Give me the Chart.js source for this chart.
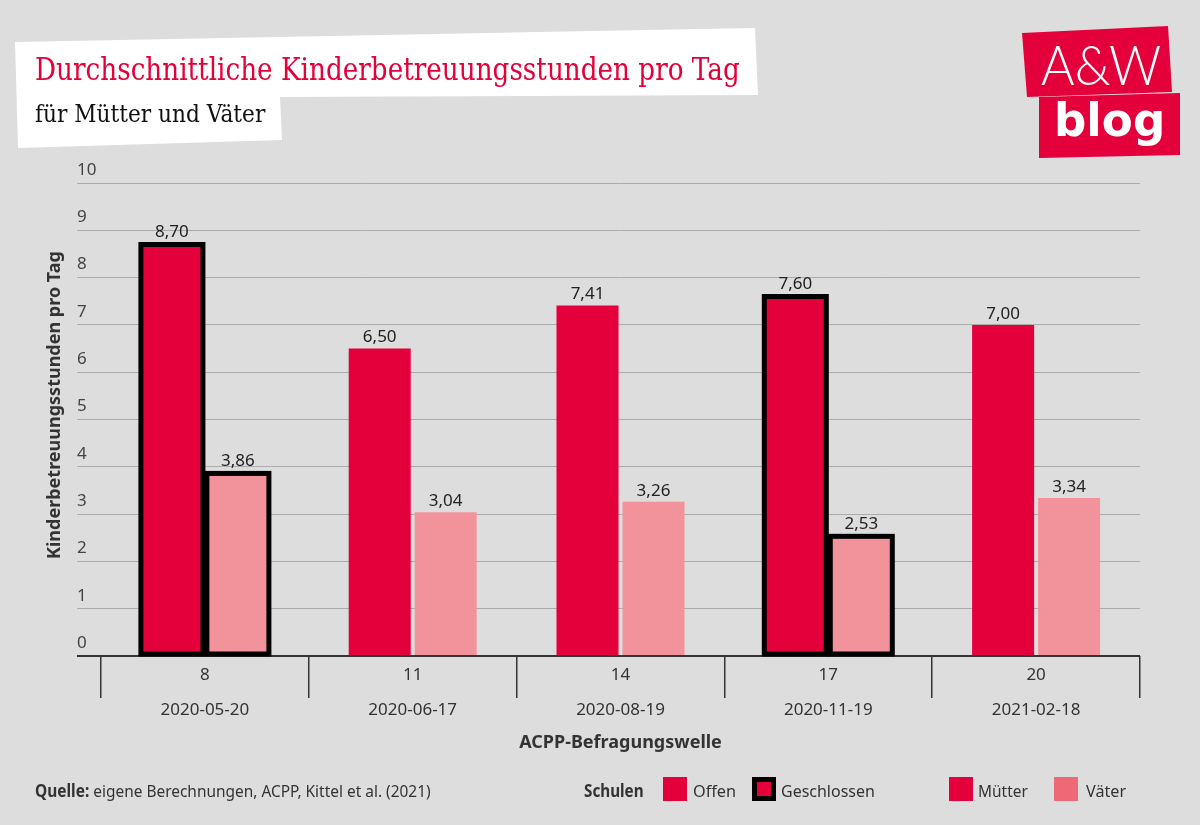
<!DOCTYPE html>
<html lang="de">
<head>
    <meta charset="UTF-8">
    <title>Kinderbetreuungsstunden</title>
    <script src="https://cdn.jsdelivr.net/npm/chart.js"></script>
    <style>
        body { margin: 0; background: #dddddd; }
        #wrap { position: relative; width: 1200px; height: 825px; overflow: hidden; background: #dddddd; }
        #chart { position: absolute; left: 0; top: 0; }
        .abs { position: absolute; white-space: nowrap; transform-origin: 0 50%; }
        #titlebox { position: absolute; left: 0; top: 0; width: 800px; height: 170px; background: #fff;
            clip-path: polygon(15px 42px, 755px 28px, 758px 95px, 280px 97px, 282px 140px, 18px 148px); }
        #title { left: 35px; top: 50px; font-family: "DejaVu Serif", serif; font-size: 32px; color: #e4003a; }
        #subtitle { left: 35px; top: 99px; font-family: "DejaVu Serif", serif; font-size: 25px; color: #111; }
        .logo { position: absolute; background: #e4003a; }
        #logo1 { left: 0; top: 0; width: 1200px; height: 200px;
            clip-path: polygon(1022px 33px, 1168px 26px, 1172px 92px, 1027px 97px); }
        #logo2 { left: 0; top: 0; width: 1200px; height: 200px;
            clip-path: polygon(1039px 97px, 1180px 93px, 1180px 155px, 1039px 158px); }
        #aw { left: 1041px; top: 30px; font-family: Lato, sans-serif; font-weight: 300; font-size: 56px; color: #fff; }
        #blog { left: 1054px; top: 93px; font-family: "DejaVu Sans", sans-serif; font-weight: bold; font-size: 46px; color: #fff; }
        .foot { font-family: "Noto Sans", sans-serif; font-size: 17px; color: #333; top: 779px; line-height: 24px; }
        .sw { position: absolute; width: 24px; height: 24px; top: 777px; box-sizing: border-box; }
    </style>
</head>
<body>
<div id="wrap">
    <canvas id="chart" width="1200" height="825"></canvas>

    <!-- Titel -->
    <div id="titlebox"></div>
    <span class="abs" id="title" data-w="705">Durchschnittliche Kinderbetreuungsstunden pro Tag</span>
    <span class="abs" id="subtitle" data-w="230">für Mütter und Väter</span>

    <!-- Logo -->
    <div class="logo" id="logo1"></div>
    <div class="logo" id="logo2"></div>
    <span class="abs" id="aw" data-w="120">A&amp;W</span>
    <span class="abs" id="blog" data-w="111">blog</span>

    <!-- Quelle und Legende -->
    <span class="abs foot" style="left:35px" data-w="396"><b>Quelle:</b> eigene Berechnungen, ACPP, Kittel et al. (2021)</span>
    <span class="abs foot" style="left:584px;font-weight:bold" data-w="60">Schulen</span>
    <div class="sw" style="left:663px;background:#e4003a"></div>
    <span class="abs foot" style="left:693px" data-w="43">Offen</span>
    <div class="sw" style="left:752px;background:#e4003a;border:5px solid #000"></div>
    <span class="abs foot" style="left:781px" data-w="94">Geschlossen</span>
    <div class="sw" style="left:949px;background:#e4003a"></div>
    <span class="abs foot" style="left:978px" data-w="50">Mütter</span>
    <div class="sw" style="left:1054px;background:#ef6875"></div>
    <span class="abs foot" style="left:1086px" data-w="40">Väter</span>
</div>

<script>
    // Daten
    const waves = ['8', '11', '14', '17', '20'];
    const dates = ['2020-05-20', '2020-06-17', '2020-08-19', '2020-11-19', '2021-02-18'];
    const mothers = [8.70, 6.50, 7.41, 7.60, 7.00];
    const fathers = [3.86, 3.04, 3.26, 2.53, 3.34];
    const schoolsClosed = [true, false, false, true, false];
    const yTicks = [0, 1, 2, 3, 4, 5, 6, 7, 8, 9, 10];

    const RED = '#e4003a';
    const PINK = '#f2939c';

    // Texte auf Zielbreite stauchen
    document.querySelectorAll('[data-w]').forEach(el => {
        const w = parseFloat(el.dataset.w);
        const s = w / el.offsetWidth;
        el.style.transform = 'scaleX(' + s + ')';
    });

    // Rahmen für geschlossene Schulen, Werte über den Balken, Achsentitel
    const labelPlugin = {
        id: 'labels',
        afterDatasetsDraw(chart) {
            const ctx = chart.ctx;
            ctx.save();

            // Rahmen mittig auf der Balkenkante (wie im Original)
            ctx.strokeStyle = '#000';
            ctx.lineWidth = 5;
            chart.data.datasets.forEach((ds, di) => {
                chart.getDatasetMeta(di).data.forEach((bar, i) => {
                    if (!schoolsClosed[i]) return;
                    const p = bar.getProps(['x', 'y', 'base', 'width'], true);
                    ctx.strokeRect(p.x - p.width / 2, p.y, p.width, p.base - p.y - 1);
                });
            });

            ctx.fillStyle = '#222';
            ctx.font = '17px "Noto Sans"';
            ctx.textAlign = 'center';
            ctx.textBaseline = 'middle';
            chart.data.datasets.forEach((ds, di) => {
                chart.getDatasetMeta(di).data.forEach((bar, i) => {
                    const off = schoolsClosed[i] ? 12 : 11;
                    ctx.fillText(ds.data[i].toFixed(2).replace('.', ','), bar.x, bar.y - off);
                });
            });

            ctx.fillStyle = '#333';
            ctx.font = 'bold 18px "Noto Sans"';
            ctx.fillText('ACPP-Befragungswelle', (chart.chartArea.left + chart.chartArea.right) / 2, 743);

            ctx.translate(55, 405);
            ctx.rotate(-Math.PI / 2);
            ctx.fillText('Kinderbetreuungsstunden pro Tag', 0, 0);
            ctx.restore();
        }
    };

    new Chart(document.getElementById('chart'), {
        type: 'bar',
        data: {
            labels: waves.map((w, i) => [w, dates[i]]),
            datasets: [
                { label: 'Mütter', data: mothers, backgroundColor: RED, borderWidth: 0 },
                { label: 'Väter', data: fathers, backgroundColor: PINK, borderWidth: 0 }
            ]
        },
        options: {
            responsive: false,
            animation: false,
            categoryPercentage: 0.635,
            barPercentage: 0.94,
            layout: { padding: { left: 77, right: 60, top: 183, bottom: 69 } },
            plugins: {
                legend: { display: false },
                tooltip: { enabled: false }
            },
            scales: {
                x: {
                    afterFit: s => { s.height = 100; },
                    border: { display: false },
                    grid: {
                        offset: true,
                        drawOnChartArea: false,
                        drawTicks: true,
                        tickLength: 42,
                        color: '#333',
                        lineWidth: 1.5
                    },
                    ticks: {
                        autoSkip: false,
                        maxRotation: 0,
                        padding: -40.5,
                        color: '#333',
                        font: { family: 'Noto Sans', size: 17, lineHeight: 2.06 }
                    }
                },
                y: {
                    min: 0,
                    max: 10,
                    afterFit: s => { s.width = 24; },
                    afterBuildTicks: s => { s.ticks = yTicks.map(v => ({ value: v })); },
                    border: { display: false },
                    grid: {
                        tickLength: 24,
                        color: c => c.tick && c.tick.value === 0 ? '#333' : '#ababab',
                        lineWidth: c => c.tick && c.tick.value === 0 ? 2 : 1
                    },
                    ticks: {
                        crossAlign: 'far',
                        labelOffset: -13,
                        color: '#444',
                        font: { family: 'Noto Sans', size: 17 }
                    }
                }
            }
        },
        plugins: [labelPlugin]
    });
</script>
</body>
</html>
